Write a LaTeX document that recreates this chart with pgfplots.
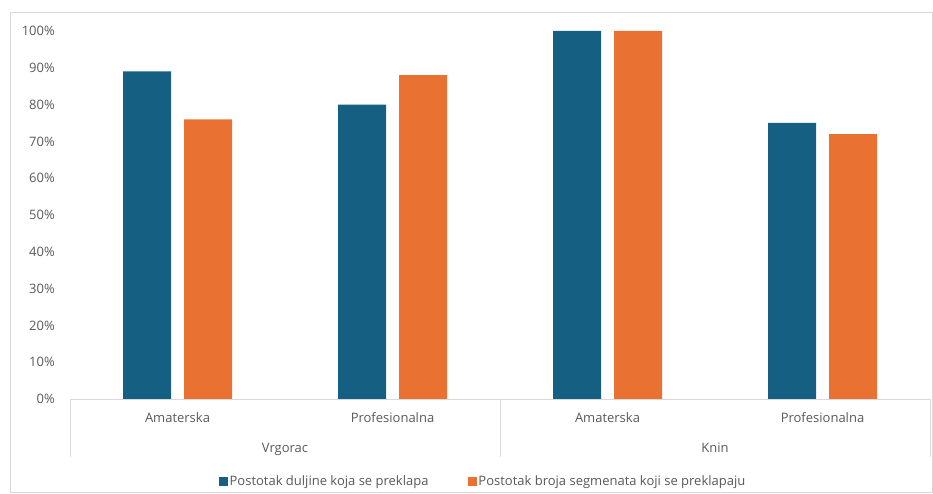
\documentclass[border=0pt]{standalone}
\usepackage{pgfplots}
\pgfplotsset{compat=1.18}
\usepackage{fontspec}
\setmainfont{Open Sans}
\definecolor{cblue}{HTML}{156082}
\definecolor{corange}{HTML}{E97132}
\definecolor{tgray}{HTML}{595959}
\definecolor{ggray}{HTML}{D9D9D9}
\newcommand{\lf}{\fontsize{13}{15}\selectfont}
\begin{document}
\begin{tikzpicture}[x=1pt,y=1pt]
\path (-70,-95) rectangle (863,399);
\draw[ggray,line width=0.8pt] (-60,-93) rectangle (862,387);
\begin{axis}[
  at={(0,0)}, anchor=south west,
  scale only axis, width=860pt, height=368pt,
  xmin=-0.5, xmax=3.5, ymin=0, ymax=100,
  ybar=13pt, bar width=48pt,
  axis x line*=bottom, axis y line=none,
  x axis line style={ggray, line width=0.8pt},
  xtick={0,1,2,3}, xticklabels={Amaterska,Profesionalna,Amaterska,Profesionalna},
  major tick length=0pt,
  xticklabel style={font=\lf, text=tgray, anchor=base, yshift=-24pt, inner sep=0pt},
  ytick={0,10,...,100},
  ymajorgrids, grid style={ggray, line width=0.8pt},
  clip=false,
  legend style={at={(rel axis cs:0.5,0)}, anchor=center, xshift=-17pt, yshift=-82pt, legend columns=2, draw=none,
    font=\lf, text=tgray, nodes={inner xsep=1.5pt},
    /tikz/every even column/.append style={column sep=38pt}},
  legend image code/.code={\fill[#1] (0pt,-4.5pt) rectangle (9pt,4.5pt);},
]
\addplot[fill=cblue, draw=none] coordinates {(0,89) (1,80) (2,100) (3,75)};
\addplot[fill=corange, draw=none] coordinates {(0,76) (1,88) (2,100) (3,72)};
\legend{Postotak duljine koja se preklapa, Postotak broja segmenata koji se preklapaju}
\foreach \v in {0,10,...,100} {
  \edef\temp{\noexpand\node[anchor=east, text=tgray, font=\noexpand\lf, inner sep=0pt] at (axis cs:-0.5,\v) [xshift=-15pt] {\v\noexpand\%};}
  \temp
}
\draw[ggray, line width=0.8pt] (axis cs:-0.5,0) -- ([yshift=-58pt]axis cs:-0.5,0);
\draw[ggray, line width=0.8pt] (axis cs:1.5,0) -- ([yshift=-58pt]axis cs:1.5,0);
\draw[ggray, line width=0.8pt] (axis cs:3.5,0) -- ([yshift=-58pt]axis cs:3.5,0);
\node[text=tgray, font=\lf, anchor=base, inner sep=0pt] at (axis cs:0.5,0) [yshift=-54pt] {Vrgorac};
\node[text=tgray, font=\lf, anchor=base, inner sep=0pt] at (axis cs:2.5,0) [yshift=-54pt] {Knin};
\end{axis}
\end{tikzpicture}
\end{document}
